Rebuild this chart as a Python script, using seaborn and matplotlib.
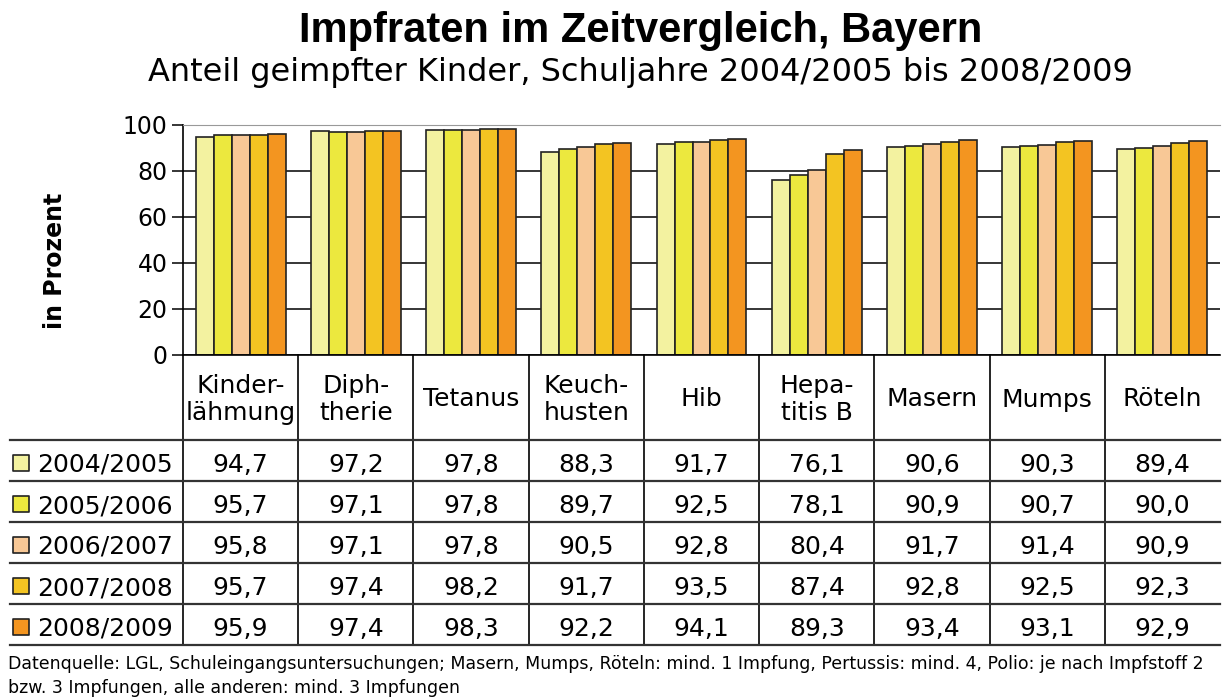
import pandas as pd
import seaborn as sns
import matplotlib.pyplot as plt

# Daten: Impfraten Bayern (in Prozent)
impfungen = ['Kinder-\nlähmung', 'Diph-\ntherie', 'Tetanus', 'Keuch-\nhusten', 'Hib',
             'Hepa-\ntitis B', 'Masern', 'Mumps', 'Röteln']
schuljahre = ['2004/2005', '2005/2006', '2006/2007', '2007/2008', '2008/2009']
werte_2004 = [94.7, 97.2, 97.8, 88.3, 91.7, 76.1, 90.6, 90.3, 89.4]
werte_2005 = [95.7, 97.1, 97.8, 89.7, 92.5, 78.1, 90.9, 90.7, 90.0]
werte_2006 = [95.8, 97.1, 97.8, 90.5, 92.8, 80.4, 91.7, 91.4, 90.9]
werte_2007 = [95.7, 97.4, 98.2, 91.7, 93.5, 87.4, 92.8, 92.5, 92.3]
werte_2008 = [95.9, 97.4, 98.3, 92.2, 94.1, 89.3, 93.4, 93.1, 92.9]
farben = ['#F3F2A0', '#ECE83E', '#F8C896', '#F3C422', '#F39520']

reihen = [werte_2004, werte_2005, werte_2006, werte_2007, werte_2008]
df = pd.DataFrame({
    'Impfung': [imp for _ in schuljahre for imp in impfungen],
    'Schuljahr': [sj for sj in schuljahre for _ in impfungen],
    'Wert': [v for r in reihen for v in r],
})

plt.rcParams['font.family'] = ['DejaVu Sans']

W, H = 1228, 697
fig = plt.figure(figsize=(W / 100, H / 100), dpi=100)

# Pixel-Layout
x_l, x_r = 183, 1220
y_top, y_axis, y_tab = 125, 355, 645
x_tab_l = 10

ax = fig.add_axes([x_l / W, 1 - y_axis / H, (x_r - x_l) / W, (y_axis - y_top) / H])
sns.barplot(data=df, x='Impfung', y='Wert', hue='Schuljahr', palette=farben,
            width=0.78, edgecolor='#222222', linewidth=1.2, saturation=1,
            legend=False, ax=ax)
ax.set_xlim(-0.5, 8.5)
ax.set_ylim(0, 100)
ax.set_yticks([0, 20, 40, 60, 80, 100])
ax.yaxis.grid(True, color='black', linewidth=1.1)
ax.set_axisbelow(True)
ax.set_xticks([])
ax.set_xlabel('')
ax.set_ylabel('in Prozent', fontsize=17, fontweight='bold')
ax.yaxis.set_label_coords(-0.112, 0.41)
ax.tick_params(axis='y', labelsize=17, length=8, width=1.1, direction='out', pad=3)
ax.spines['right'].set_visible(False)
ax.spines['top'].set_color('#999999')
ax.spines['left'].set_linewidth(1.2)
ax.spines['bottom'].set_linewidth(1.2)

# Tabelle unterhalb der Achse
tax = fig.add_axes([x_tab_l / W, 1 - y_tab / H, (x_r - x_tab_l) / W, (y_tab - y_axis) / H])
unit = (x_r - x_l) / 9
tax.set_xlim(-0.5 - (x_l - x_tab_l) / unit, 8.5)
tax.set_ylim(y_tab, y_axis)
tax.axis('off')

y_head = 440
row_h = (y_tab - y_head) / 5
# senkrechte Linien
for i in range(9):
    tax.plot([i - 0.5, i - 0.5], [y_axis, y_tab], color='black', lw=1.2, clip_on=False)
# waagrechte Linien
for k in range(6):
    yy = y_head + k * row_h
    tax.plot([tax.get_xlim()[0], 8.5], [yy, yy], color='#333333', lw=1.6, clip_on=False)

for i, name in enumerate(impfungen):
    tax.text(i, (y_axis + y_head) / 2 + 2, name, ha='center', va='center',
             fontsize=18, linespacing=1.2)

x_leg = tax.get_xlim()[0]
for k, (sj, r) in enumerate(zip(schuljahre, reihen)):
    yc = y_head + (k + 0.5) * row_h + 2
    tax.scatter([x_leg + 11 / unit], [yc], marker='s', s=120,
                color=farben[k], edgecolor='#222222', linewidth=1.2, clip_on=False)
    tax.text(x_leg + 27 / unit, yc, sj, ha='left', va='center_baseline', fontsize=18)
    for i, v in enumerate(r):
        tax.text(i, yc, f'{v:.1f}'.replace('.', ','), ha='center', va='center_baseline',
                 fontsize=18)

# Titel
fig.text(641 / W, 1 - 31 / H, 'Impfraten im Zeitvergleich, Bayern', ha='center', va='center',
         fontsize=30, fontweight='bold', family=['Liberation Sans', 'DejaVu Sans'])
fig.text(640 / W, 1 - 72 / H, 'Anteil geimpfter Kinder, Schuljahre 2004/2005 bis 2008/2009',
         ha='center', va='center', fontsize=23)

# Fußnote
fig.text(8 / W, 1 - 655 / H,
         'Datenquelle: LGL, Schuleingangsuntersuchungen; Masern, Mumps, Röteln: mind. 1 Impfung, '
         'Pertussis: mind. 4, Polio: je nach Impfstoff 2\nbzw. 3 Impfungen, alle anderen: mind. 3 Impfungen',
         ha='left', va='top', fontsize=12.5, linespacing=1.4)

plt.savefig('out.png', dpi=100)
